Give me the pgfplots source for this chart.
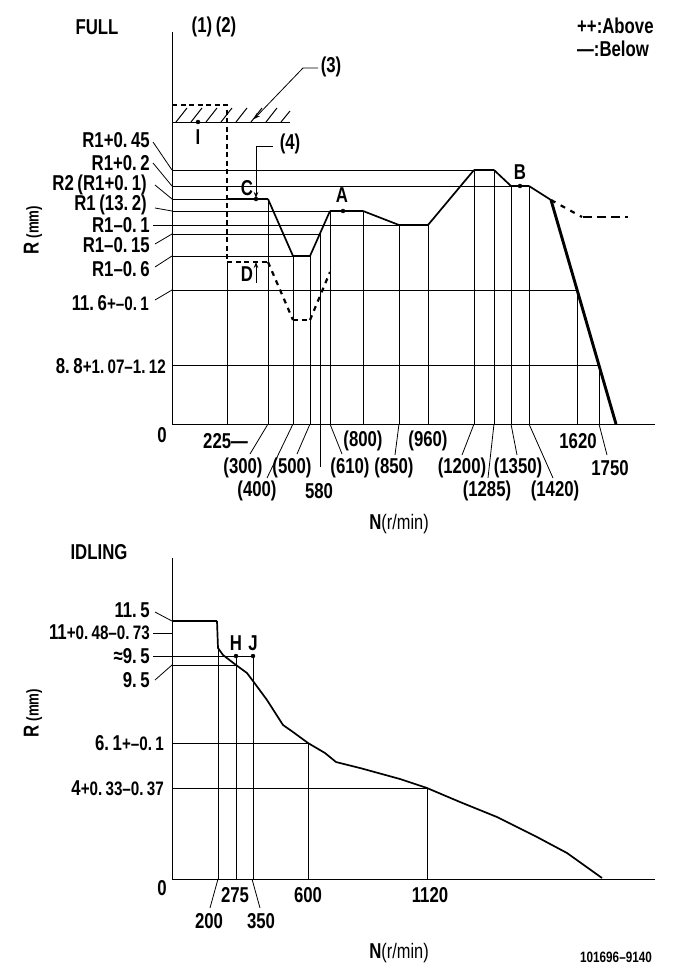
\documentclass[border=0pt]{standalone}
\usepackage{pgfplots}
\pgfplotsset{compat=1.18}
\usepackage{fontspec}
\setmainfont{Liberation Sans}[FakeStretch=0.78]
\usetikzlibrary{arrows.meta}
\newcommand{\fs}{\fontsize{21.5bp}{21.5bp}\selectfont\bfseries}
\newcommand{\sm}{\fontsize{19.5bp}{19.5bp}\selectfont\bfseries}
\newcommand{\mm}{\fontsize{17bp}{17bp}\selectfont}
\newcommand{\nm}{\fontsize{21bp}{21bp}\selectfont\mdseries}
\tikzset{
  tl/.style={line width=0.8bp},
  ml/.style={line width=1.7bp},
  kl/.style={line width=2.9bp},
  dl/.style={line width=2.6bp, dash pattern=on 5bp off 3.5bp},
  ar/.style={-{Stealth[length=6bp,width=4.5bp]}},
}
\pgfplotsset{
  sch/.style={scale only axis, clip=false, axis lines=left, axis line style={-, line width=0.8bp},
    xtick=\empty, ytick=\empty, xmin=172, xmax=655, ymin=0},
}
\begin{document}
\bfseries
\begin{tikzpicture}[every node/.style={font=\fs, inner sep=0pt}]
\path[use as bounding box] (0,0) rectangle (681bp,-979bp);
%================ FULL =================
\begin{axis}[sch, width=483bp, height=392bp, ymax=392, at={(172bp,-424bp)}, anchor=south west]
% reference horizontals
\addplot[tl] coordinates {(172,254)(474,254)};
\addplot[tl] coordinates {(172,238)(511,238)};
\addplot[tl] coordinates {(172,225)(227,225)};
\addplot[tl] coordinates {(172,213)(330,213)};
\addplot[tl] coordinates {(153,199)(399,199)};
\addplot[tl] coordinates {(172,190)(321,190)};
\addplot[tl] coordinates {(172,168)(293,168)};
\addplot[tl] coordinates {(172,134)(577,134)};
\addplot[tl] coordinates {(172,58.5)(599,58.5)};
% verticals
\addplot[tl] coordinates {(227,0)(227,162)};
\addplot[tl] coordinates {(268,0)(268,225)};
\addplot[tl] coordinates {(293,0)(293,168)};
\addplot[tl] coordinates {(310,0)(310,168)};
\addplot[tl] coordinates {(320,-43)(320,190)};
\addplot[tl] coordinates {(330,0)(330,213)};
\addplot[tl] coordinates {(363,0)(363,213)};
\addplot[tl] coordinates {(399,0)(399,199)};
\addplot[tl] coordinates {(428,0)(428,199)};
\addplot[tl] coordinates {(474,0)(474,254)};
\addplot[tl] coordinates {(494,0)(494,254)};
\addplot[tl] coordinates {(511,0)(511,238)};
\addplot[tl] coordinates {(529,0)(529,238)};
\addplot[tl] coordinates {(577,0)(577,134)};
\addplot[tl] coordinates {(599,0)(599,58.5)};
% hatch (stopper)
\addplot[tl] coordinates {(172,302)(290,302)};
\addplot[line width=1bp, unbounded coords=jump] coordinates {(176,302)(187,316)(187,nan)(191,302)(202,316)(202,nan)(206,302)(217,316)(217,nan)(221,302)(232,316)(232,nan)(236,302)(247,316)(247,nan)(251,302)(262,316)(262,nan)(266,302)(277,316)(277,nan)(281,302)(290,313)};
% main full-load curve
\addplot[ml] coordinates {(268,225)(293,168)};
\addplot[ml] coordinates {(310,168)(330,213)};
\addplot[ml] coordinates {(363,213)(399,199)};
\addplot[ml] coordinates {(428,199)(474,254)};
\addplot[ml] coordinates {(494,254)(511,238)};
\addplot[ml] coordinates {(529,238)(551,224)};
\addplot[kl] coordinates {(551,224)(616,0)};
\addplot[kl] coordinates {(227,225)(268,225)};
\addplot[kl] coordinates {(293,168)(310,168)};
\addplot[kl] coordinates {(330,213)(363,213)};
\addplot[kl] coordinates {(399,199)(428,199)};
\addplot[kl] coordinates {(474,254)(494,254)};
\addplot[kl] coordinates {(511,238)(529,238)};
% dashed curves
\addplot[dl] coordinates {(172,319)(227,319)(227,162)(268,162)};
\addplot[dl, dash pattern=on 5bp off 5bp, line width=2.2bp] coordinates {(268,162)(293,104)};
\addplot[dl] coordinates {(293,104)(310,104)};
\addplot[dl, dash pattern=on 5bp off 5bp, line width=2.2bp] coordinates {(310,104)(330,152)};
\addplot[dl, dash pattern=on 5bp off 6bp, line width=2.2bp] coordinates {(551,224)(582,207)};
\addplot[dl, dash pattern=on 9bp off 5bp] coordinates {(583,207)(628,207)};
% points
\addplot[only marks, mark=*, mark size=2bp] coordinates {(198,302)(256,225)(343,213)(520,238)};
% arrows
\draw[tl] (axis cs:256,278) -- (axis cs:273,278);
\draw[tl, ar] (axis cs:256,278) -- (axis cs:256,226);
\draw[tl, ar] (axis cs:256,141) -- (axis cs:256,162);
\draw[tl, ar] (axis cs:318,356) -- (axis cs:303,356) -- (axis cs:254,305);
\node at (axis cs:290,280) {(4)};
\node at (axis cs:331,357) {(3)};
\node at (axis cs:198,287) {I};
\node at (axis cs:247,236) {C};
\node at (axis cs:247,150) {D};
\node at (axis cs:342,229) {A};
\node at (axis cs:520,252) {B};
% titles
\node at (axis cs:97,397) {FULL};
\node at (axis cs:214,397) {(1)\,(2)};
\node[anchor=west] at (axis cs:577,398) {++:Above};
\node[anchor=west] at (axis cs:577,375) {—:Below};
\node[rotate=90] at (axis cs:33,194) {R\,{\mm(mm)}};
% left labels
\node[anchor=east] at (axis cs:150,284) {R1+0.\,45};
\draw[tl] (axis cs:153,282) -- (axis cs:172,254);
\node[anchor=east] at (axis cs:150,261) {R1+0.\,2};
\draw[tl] (axis cs:153,261) -- (axis cs:172,238);
\node[anchor=east] at (axis cs:147,239) {R2\,(R1+0.\,1)};
\draw[tl] (axis cs:155,239) -- (axis cs:172,225);
\node[anchor=east] at (axis cs:147,219) {R1\,(13.\,2)};
\draw[tl] (axis cs:155,216) -- (axis cs:172,213);
\node[anchor=east] at (axis cs:150,199) {R1–0.\,1};
\node[anchor=east] at (axis cs:150,179) {R1–0.\,15};
\draw[tl] (axis cs:155,180) -- (axis cs:172,190);
\node[anchor=east] at (axis cs:150,155) {R1–0.\,6};
\draw[tl] (axis cs:155,157) -- (axis cs:172,168);
\node[anchor=east] at (axis cs:149,121) {11.\,6{\sm+–0.\,1}};
\draw[tl] (axis cs:155,124) -- (axis cs:172,134);
\node[anchor=east] at (axis cs:166,58) {8.\,8{\sm+1.\,07–1.\,12}};
% x labels
\node at (axis cs:162,-11) {0};
\node[anchor=west] at (axis cs:203,-17) {225—};
\node at (axis cs:243,-44) {(300)};
\draw[tl] (axis cs:268,0) -- (axis cs:250,-30);
\node at (axis cs:257,-67) {(400)};
\draw[tl] (axis cs:293,0) -- (axis cs:267,-54);
\node at (axis cs:292,-44) {(500)};
\draw[tl] (axis cs:310,0) -- (axis cs:297,-30);
\node at (axis cs:319,-67) {580};
\node at (axis cs:350,-44) {(610)};
\draw[tl] (axis cs:330,0) -- (axis cs:342,-30);
\node at (axis cs:363,-17) {(800)};
\node at (axis cs:394,-44) {(850)};
\draw[tl] (axis cs:399,0) -- (axis cs:395,-31);
\node at (axis cs:428,-17) {(960)};
\node at (axis cs:462,-44) {(1200)};
\draw[tl] (axis cs:474,0) -- (axis cs:462,-31);
\node at (axis cs:487,-67) {(1285)};
\draw[tl] (axis cs:494,0) -- (axis cs:488,-54);
\node at (axis cs:518,-44) {(1350)};
\draw[tl] (axis cs:511,0) -- (axis cs:517,-31);
\node at (axis cs:555,-67) {(1420)};
\draw[tl] (axis cs:529,0) -- (axis cs:553,-54);
\node at (axis cs:578,-17) {1620};
\node at (axis cs:610,-44) {1750};
\draw[tl] (axis cs:599,0) -- (axis cs:607,-31);
\node at (axis cs:399,-100) {N{\nm(r/min)}};
\end{axis}
%================ IDLING =================
\begin{axis}[sch, width=483bp, height=321bp, ymax=321, at={(172bp,-879bp)}, anchor=south west]
\addplot[tl] coordinates {(153,246)(172,246)};
\addplot[tl] coordinates {(153,223)(253,223)};
\addplot[tl] coordinates {(172,214)(236,214)};
\addplot[tl] coordinates {(172,136)(308,136)};
\addplot[tl] coordinates {(172,91)(427,91)};
\addplot[tl] coordinates {(218,0)(218,231)};
\addplot[tl] coordinates {(236,0)(236,223)};
\addplot[tl] coordinates {(253,0)(253,223)};
\addplot[tl] coordinates {(308,0)(308,136)};
\addplot[tl] coordinates {(427,0)(427,91)};
\addplot[kl] coordinates {(172,258)(217,258)};
\addplot[ml] coordinates {(217,258)(218,231)(223,224)(236,214)(247,206)(253,198)(267,179)(283,154)(293,147)(308,136)(325,126)(336,117)(360,111)(400,100)(427,91)(460,77)(497,62)(537,42)(567,26)(602,1)};
\addplot[only marks, mark=*, mark size=2bp] coordinates {(236,223)(253,223)};
\node at (axis cs:236,236) {H};
\node at (axis cs:253,236) {J};
\node at (axis cs:99,327) {IDLING};
\node[rotate=90] at (axis cs:33,166) {R\,{\mm(mm)}};
\node[anchor=east] at (axis cs:150,269) {11.\,5};
\draw[tl] (axis cs:155,267) -- (axis cs:172,258);
\node[anchor=east] at (axis cs:150,247) {11{\sm+0.\,48–0.\,73}};
\node[anchor=east] at (axis cs:150,223) {≈9.\,5};
\node[anchor=east] at (axis cs:150,199) {9.\,5};
\draw[tl] (axis cs:155,199) -- (axis cs:172,214);
\node[anchor=east] at (axis cs:164,136) {6.\,1{\sm+–0.\,1}};
\node[anchor=east] at (axis cs:164,91) {4{\sm+0.\,33–0.\,37}};
\node at (axis cs:162,-9) {0};
\node at (axis cs:209,-42) {200};
\draw[tl] (axis cs:218,0) -- (axis cs:210,-29);
\node at (axis cs:235,-16) {275};
\node at (axis cs:261,-42) {350};
\draw[tl] (axis cs:252,0) -- (axis cs:260,-29);
\node at (axis cs:308,-16) {600};
\node at (axis cs:430,-16) {1120};
\node at (axis cs:399,-74) {N{\nm(r/min)}};
\node at (axis cs:616,-78) {\fontsize{15bp}{15bp}\selectfont 101696–9140};
\end{axis}
\end{tikzpicture}
\end{document}
